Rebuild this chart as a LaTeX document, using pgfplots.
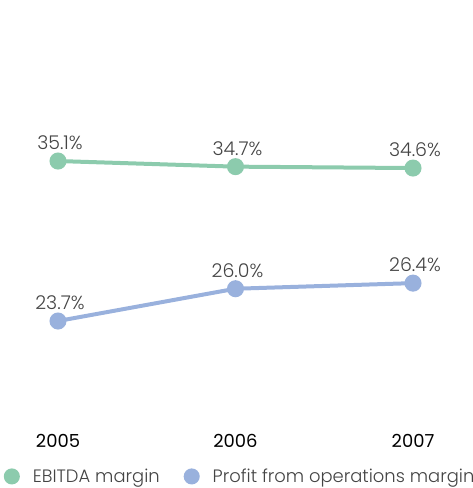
\documentclass[border=0pt]{standalone}
\usepackage{fontspec}
\setmainfont{Poppins}[UprightFont={* Light}, BoldFont={*}]
\usepackage{pgfplots}
\pgfplotsset{compat=1.18}
\definecolor{cgreen}{HTML}{8CCBAD}
\definecolor{cblue}{HTML}{99B1DD}
\definecolor{ctext}{HTML}{444444}
\begin{document}
\begin{tikzpicture}
\path[use as bounding box] (0,0) rectangle (473bp,488bp);
\begin{axis}[
  at={(58bp,63bp)}, anchor=south west,
  scale only axis, width=355bp, height=405bp,
  xmin=2005, xmax=2007, ymin=16.29, ymax=45.15,
  axis line style={draw=none},
  xtick={2005,2006,2007},
  xticklabels={\textbf{2005},\textbf{2006},\textbf{2007}},
  ytick=\empty,
  major tick length=0pt,
  clip=false,
  xticklabel style={font=\fontsize{18}{20}\selectfont, text=black, yshift=-6bp},
  nodes near coords,
  point meta=explicit symbolic,
  every node near coord/.style={font=\fontsize{19}{21}\selectfont, text=ctext, anchor=south, yshift=6bp, xshift=2bp},
  legend columns=2,
  legend style={at={(0.513,-0.127)}, anchor=center, draw=none, fill=none,
    font=\fontsize{18}{20}\selectfont, text=ctext, inner sep=0pt,
    /tikz/every odd column/.append style={column sep=11bp},
    /tikz/every even column/.append style={column sep=22bp}},
  legend image code/.code={\fill[#1] (6bp,0bp) circle (6bp);},
]
\addplot[cgreen, line width=4bp, mark=*, mark size=6.5bp, mark options={fill=cgreen, draw=none}]
  coordinates {(2005,35.1) [35.1\%] (2006,34.7) [34.7\%] (2007,34.6) [34.6\%]};
\addlegendentry{EBITDA margin}
\addplot[cblue, line width=4bp, mark=*, mark size=6.5bp, mark options={fill=cblue, draw=none}]
  coordinates {(2005,23.7) [23.7\%] (2006,26.0) [26.0\%] (2007,26.4) [26.4\%]};
\addlegendentry{Profit from operations margin}
\end{axis}
\end{tikzpicture}
\end{document}
